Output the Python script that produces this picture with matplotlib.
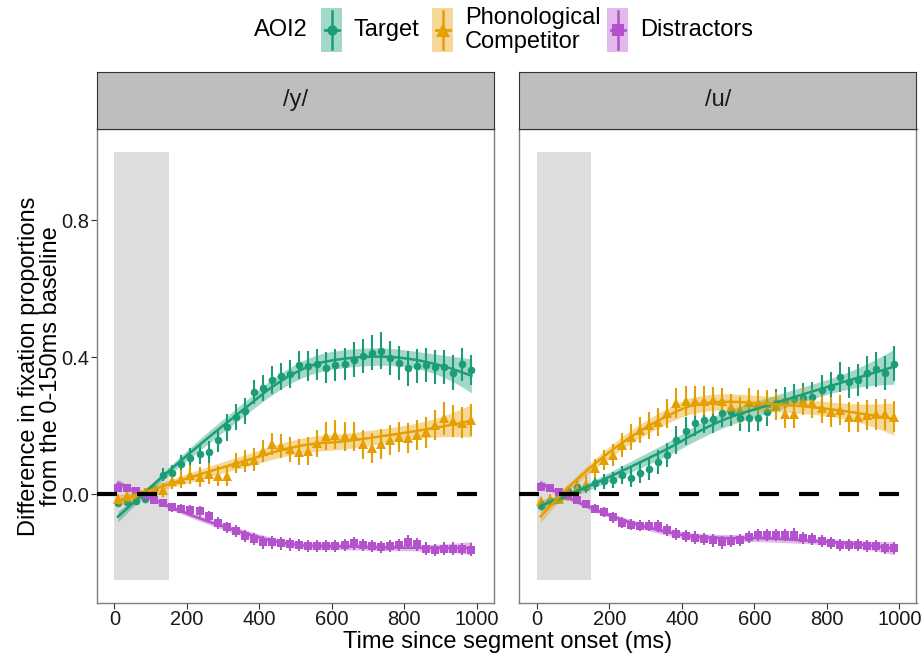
import numpy as np
import matplotlib
matplotlib.use('Agg')
import matplotlib.pyplot as plt
from matplotlib.patches import Rectangle

plt.rcParams['font.family'] = ['Liberation Sans', 'DejaVu Sans']

# time bins (ms), 25 ms apart
time = [10, 35, 60, 85, 110, 135, 160, 185, 210, 235,
        260, 285, 310, 335, 360, 385, 410, 435, 460, 485,
        510, 535, 560, 585, 610, 635, 660, 685, 710, 735,
        760, 785, 810, 835, 860, 885, 910, 935, 960, 985]

panels = ['/y/', '/u/']
aoi_labels = ['Target', 'Phonological\nCompetitor', 'Distractors']

# /y/ panel
y_target = [-0.025, -0.024, -0.020, -0.013, 0.014, 0.057, 0.062, 0.088, 0.105, 0.117,
            0.124, 0.157, 0.195, 0.226, 0.242, 0.298, 0.309, 0.333, 0.344, 0.352,
            0.376, 0.374, 0.379, 0.369, 0.377, 0.380, 0.393, 0.403, 0.413, 0.419,
            0.397, 0.383, 0.367, 0.374, 0.378, 0.372, 0.372, 0.354, 0.379, 0.362]
y_target_err = [0.010, 0.010, 0.012, 0.012, 0.015, 0.020, 0.022, 0.025, 0.029, 0.030,
                0.032, 0.034, 0.040, 0.038, 0.038, 0.036, 0.038, 0.040, 0.040, 0.041,
                0.041, 0.044, 0.046, 0.046, 0.047, 0.048, 0.050, 0.050, 0.052, 0.053,
                0.050, 0.050, 0.050, 0.050, 0.050, 0.050, 0.050, 0.051, 0.048, 0.044]
y_comp = [-0.013, -0.006, 0.000, 0.004, 0.012, 0.012, 0.038, 0.043, 0.057, 0.051,
          0.060, 0.053, 0.053, 0.091, 0.096, 0.101, 0.126, 0.146, 0.140, 0.131,
          0.124, 0.126, 0.148, 0.170, 0.174, 0.169, 0.169, 0.145, 0.135, 0.146,
          0.158, 0.167, 0.165, 0.172, 0.180, 0.201, 0.221, 0.214, 0.209, 0.216]
y_comp_err = [0.012, 0.012, 0.014, 0.015, 0.018, 0.020, 0.024, 0.026, 0.028, 0.029,
              0.030, 0.030, 0.030, 0.030, 0.032, 0.033, 0.033, 0.033, 0.035, 0.036,
              0.038, 0.040, 0.040, 0.041, 0.041, 0.042, 0.042, 0.043, 0.043, 0.043,
              0.044, 0.044, 0.044, 0.044, 0.044, 0.044, 0.049, 0.047, 0.046, 0.046]
y_dist = [0.017, 0.017, 0.009, -0.003, -0.018, -0.027, -0.039, -0.042, -0.047, -0.050,
          -0.064, -0.084, -0.097, -0.107, -0.122, -0.131, -0.141, -0.141, -0.144, -0.147,
          -0.149, -0.151, -0.151, -0.151, -0.151, -0.149, -0.144, -0.149, -0.151, -0.154,
          -0.152, -0.149, -0.139, -0.147, -0.159, -0.164, -0.159, -0.159, -0.161, -0.162]
y_dist_err = [0.008, 0.008, 0.009, 0.010, 0.011, 0.012, 0.013, 0.014, 0.015, 0.016,
              0.016, 0.017, 0.017, 0.017, 0.018, 0.018, 0.018, 0.018, 0.018, 0.018,
              0.018, 0.018, 0.018, 0.018, 0.018, 0.018, 0.018, 0.018, 0.018, 0.018,
              0.018, 0.018, 0.020, 0.018, 0.018, 0.018, 0.018, 0.018, 0.018, 0.018]

# /u/ panel
u_target = [-0.034, -0.019, -0.008, 0.009, 0.021, 0.021, 0.033, 0.038, 0.041, 0.055,
            0.048, 0.063, 0.073, 0.094, 0.114, 0.158, 0.184, 0.209, 0.217, 0.218,
            0.237, 0.240, 0.223, 0.221, 0.223, 0.240, 0.265, 0.272, 0.279, 0.282,
            0.284, 0.304, 0.313, 0.343, 0.326, 0.333, 0.355, 0.364, 0.354, 0.380]
u_target_err = [0.010, 0.010, 0.012, 0.014, 0.016, 0.018, 0.020, 0.022, 0.024, 0.026,
                0.028, 0.030, 0.032, 0.034, 0.036, 0.040, 0.040, 0.040, 0.040, 0.040,
                0.040, 0.040, 0.040, 0.040, 0.040, 0.041, 0.042, 0.042, 0.042, 0.043,
                0.043, 0.043, 0.044, 0.044, 0.044, 0.046, 0.048, 0.050, 0.050, 0.051]
u_comp = [-0.019, -0.013, -0.013, -0.003, 0.014, 0.031, 0.075, 0.099, 0.114, 0.143,
          0.167, 0.187, 0.201, 0.211, 0.236, 0.265, 0.272, 0.272, 0.273, 0.274,
          0.272, 0.253, 0.245, 0.270, 0.265, 0.265, 0.257, 0.234, 0.234, 0.272,
          0.265, 0.250, 0.240, 0.245, 0.226, 0.226, 0.231, 0.233, 0.233, 0.226]
u_comp_err = [0.012, 0.012, 0.014, 0.016, 0.020, 0.024, 0.028, 0.030, 0.033, 0.035,
              0.037, 0.038, 0.040, 0.040, 0.042, 0.044, 0.044, 0.044, 0.042, 0.040,
              0.039, 0.040, 0.040, 0.040, 0.040, 0.040, 0.040, 0.040, 0.040, 0.040,
              0.042, 0.042, 0.043, 0.043, 0.044, 0.044, 0.045, 0.045, 0.046, 0.046]
u_dist = [0.021, 0.017, 0.007, -0.003, -0.018, -0.029, -0.042, -0.053, -0.068, -0.084,
          -0.089, -0.092, -0.092, -0.093, -0.105, -0.117, -0.123, -0.127, -0.131, -0.135,
          -0.141, -0.136, -0.134, -0.125, -0.120, -0.120, -0.120, -0.120, -0.118, -0.129,
          -0.131, -0.136, -0.142, -0.149, -0.149, -0.149, -0.151, -0.151, -0.157, -0.157]
u_dist_err = [0.008, 0.008, 0.009, 0.010, 0.011, 0.012, 0.013, 0.014, 0.015, 0.016,
              0.016, 0.017, 0.017, 0.017, 0.018, 0.018, 0.018, 0.018, 0.018, 0.018,
              0.018, 0.018, 0.018, 0.018, 0.018, 0.018, 0.018, 0.018, 0.020, 0.018,
              0.018, 0.018, 0.018, 0.018, 0.018, 0.018, 0.018, 0.018, 0.018, 0.018]

baseline_window = (0, 150)

colors = ['#1B9E77', '#E69F00', '#B452CD']
markers = ['o', '^', 's']
msizes = [5.5, 7.5, 6.0]


def loess(x, y, err, xg, span=0.85):
    # local quadratic fit with tricube weights, band built from the point errors
    x = np.asarray(x, float)
    y = np.asarray(y, float)
    err = np.asarray(err, float)
    q = int(np.floor(len(x) * span))
    fit, se = [], []
    for x0 in xg:
        d = np.abs(x - x0)
        h = np.sort(d)[q - 1]
        w = np.clip(1 - (d / h) ** 3, 0, None) ** 3
        X = np.column_stack([np.ones_like(x), x - x0, (x - x0) ** 2])
        A = X.T @ (w[:, None] * X)
        L = np.linalg.solve(A, X.T * w)[0]
        fit.append(L @ y)
        se.append(np.sqrt(np.sum(L ** 2 * err ** 2)))
    return np.array(fit), 1.96 * np.array(se)


data = {
    '/y/': [(y_target, y_target_err), (y_comp, y_comp_err), (y_dist, y_dist_err)],
    '/u/': [(u_target, u_target_err), (u_comp, u_comp_err), (u_dist, u_dist_err)],
}

fig = plt.figure(figsize=(9.23, 6.57), dpi=100)
W, H = 923, 657
bottom = 1 - 602.7 / H
height = (602.7 - 129) / H
lefts = [96.7 / W, 519.3 / W]
width = 397.2 / W

xg = np.linspace(min(time), max(time), 100)

for i, panel in enumerate(panels):
    ax = fig.add_axes([lefts[i], bottom, width, height])
    ax.add_patch(Rectangle((baseline_window[0], -0.25), baseline_window[1] - baseline_window[0], 1.25,
                           facecolor='#DDDDDD', edgecolor='none', zorder=0))
    for k, (vals, errs) in enumerate(data[panel]):
        ax.errorbar(time, vals, yerr=errs, fmt=markers[k], color=colors[k], ms=msizes[k],
                    mew=0, elinewidth=1.5, capsize=0, zorder=2)
        fit, band = loess(time, vals, errs, xg)
        ax.fill_between(xg, fit - band, fit + band, color=colors[k], alpha=0.4, lw=0, zorder=3)
        ax.plot(xg, fit, color=colors[k], lw=1.8, zorder=4)
    ax.axhline(0, color='black', lw=3, linestyle=(0, (4.8, 4.8)), zorder=5)

    ax.set_xlim(-48.6, 1047)
    ax.set_ylim(-0.317, 1.066)
    ax.set_xticks([0, 200, 400, 600, 800, 1000])
    ax.set_yticks([0.0, 0.4, 0.8])
    ax.tick_params(axis='both', labelsize=14.5, length=4, width=0.8, color='#333333',
                   labelcolor='#1A1A1A', pad=1.5)
    if i == 0:
        ax.set_yticklabels(['0.0', '0.4', '0.8'])
    else:
        ax.tick_params(axis='y', left=False, labelleft=False)
    for s in ax.spines.values():
        s.set_color('#7F7F7F')
        s.set_linewidth(1)

    # facet strip
    sax = fig.add_axes([lefts[i], 1 - 129 / H, width, 57.3 / H])
    sax.set_facecolor('#BEBEBE')
    sax.set_xticks([])
    sax.set_yticks([])
    for s in sax.spines.values():
        s.set_color('#333333')
        s.set_linewidth(0.8)
    sax.text(0.5, 0.5, panel, ha='center', va='center', fontsize=17, color='#1A1A1A',
             transform=sax.transAxes)

fig.text(508 / W, 1 - 653 / H, 'Time since segment onset (ms)', ha='center', va='bottom', fontsize=17)
fig.text(40 / W, 1 - 366 / H, 'Difference in fixation proportions\nfrom the 0-150ms baseline',
         ha='center', va='center', rotation=90, fontsize=17, linespacing=1.0)

# legend drawn in pixel coordinates across the top
lax = fig.add_axes([0, 0, 1, 1], zorder=10)
lax.set_xlim(0, W)
lax.set_ylim(H, 0)
lax.axis('off')
lax.text(254, 30, 'AOI2', ha='left', va='center', fontsize=17)
key_x = [321, 432, 607]
text_x = [354, 465, 640]
for k in range(3):
    lax.add_patch(Rectangle((key_x[k], 8), 21, 44, facecolor=colors[k], alpha=0.4, edgecolor='none'))
    cx = key_x[k] + 10.5
    lax.plot([cx, cx], [11, 49], color=colors[k], lw=1.8)
    lax.plot([cx - 7, cx + 7], [30, 30], color=colors[k], lw=2)
    lax.plot(cx, 30, marker=markers[k], color=colors[k], ms=msizes[k] + 2, mew=0)
    lax.text(text_x[k], 30, aoi_labels[k], ha='left', va='center', fontsize=17, linespacing=1.12)

fig.savefig('out.png', dpi=100)
